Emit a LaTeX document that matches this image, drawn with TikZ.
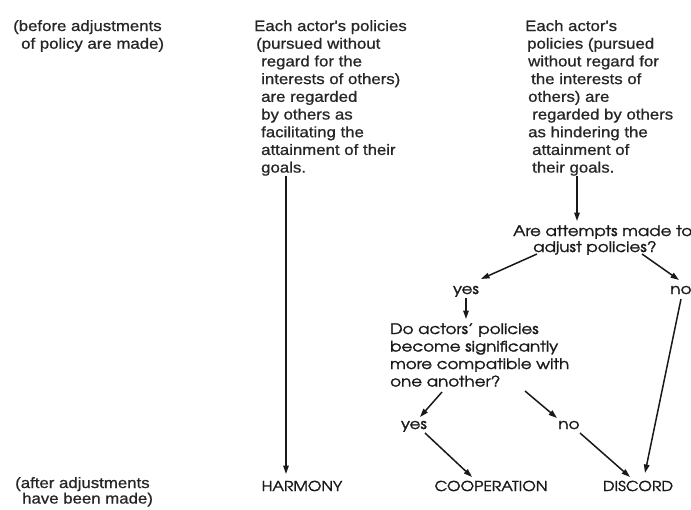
\documentclass[tikz,border=0pt]{standalone}
\usepackage{fontspec}
\setmainfont{Liberation Sans}
\newfontfamily\bodyf[FakeStretch=1.12,FakeBold=0.8]{Liberation Sans}
\newfontfamily\advf[FakeStretch=1.15,FakeBold=1.6]{texgyreadventor-regular.otf}
\usetikzlibrary{arrows.meta}
\begin{document}
\begin{tikzpicture}[x=1pt,y=-1pt,
  txt/.style={inner sep=0pt, anchor=base west, text=black!85, font=\bodyf\fontsize{15}{17.7}\selectfont},
  adv/.style={inner sep=0pt, text=black!90, font=\advf\fontsize{14.5}{17.5}\selectfont},
  capsf/.style={adv, anchor=base, font=\advf\fontsize{13.6}{16}\selectfont},
  arr/.style={-{Triangle[length=8.5pt,width=5.5pt]}, line width=1.5pt, black!90}]
\useasboundingbox (0,0) rectangle (691,509);
\fill[white] (0,0) rectangle (691,509);

\node[txt] (before) at (13,31) {\begin{tabular}[t]{@{}l@{}}(before adjustments\\\hspace*{8pt}of policy are made)\end{tabular}};
\node[txt] (mid) at (254,31) {\begin{tabular}[t]{@{}l@{}}Each actor's policies\\
\hspace*{2pt}(pursued without\\
\hspace*{7pt}regard for the\\
\hspace*{7pt}interests of others)\\
\hspace*{7pt}are regarded\\
\hspace*{7pt}by others as\\
\hspace*{7pt}facilitating the\\
\hspace*{7pt}attainment of their\\
\hspace*{7pt}goals.\end{tabular}};
\node[txt] (right) at (525,31) {\begin{tabular}[t]{@{}l@{}}Each actor's\\
\hspace*{2pt}policies (pursued\\
\hspace*{3pt}without regard for\\
\hspace*{6pt}the interests of\\
\hspace*{3pt}others) are\\
\hspace*{7pt}regarded by others\\
\hspace*{3pt}as hindering the\\
\hspace*{7pt}attainment of\\
\hspace*{7pt}their goals.\end{tabular}};
\node[txt, font=\bodyf\fontsize{15}{15.5}\selectfont] (after) at (15,488) {\begin{tabular}[t]{@{}l@{}}(after adjustments\\\hspace*{7pt}have been made)\end{tabular}};

\node[adv, anchor=base west, font=\advf\fontsize{14.5}{16}\selectfont] (q1) at (513,236) {\begin{tabular}[t]{@{}l@{}}Are attempts made to\\\hspace*{20pt}adjust policies?\end{tabular}};
\node[adv, anchor=base] (yes1) at (466,294) {yes};
\node[adv, anchor=base] (no1) at (681,294) {no};
\node[adv, anchor=base west] (q2) at (390,334) {\begin{tabular}[t]{@{}l@{}}Do actors’ policies\\become significantly\\more compatible with\\one another?\end{tabular}};
\node[adv, anchor=base] (yes2) at (414,429) {yes};
\node[adv, anchor=base] (no2) at (569,429) {no};
\node[capsf] (harm) at (302,491) {HARMONY};
\node[capsf] (coop) at (491,491) {COOPERATION};
\node[capsf] (disc) at (638,491) {DISCORD};

\draw[arr] ([shift={(32,145)}]mid.base west) -- ([shift={(-16,-17)}]harm.base);
\draw[arr] ([shift={(52,145)}]right.base west) -- ([shift={(64,-15)}]q1.base west);
\draw[arr] ([shift={(24,18)}]q1.base west) -- ([shift={(15,-15)}]yes1.base);
\draw[arr] ([shift={(129,18)}]q1.base west) -- ([shift={(-2,-14)}]no1.base);
\draw[arr] ([shift={(0,4)}]yes1.base) -- ([shift={(76,-15)}]q2.base west);
\draw[arr] ([shift={(52,58)}]q2.base west) -- ([shift={(6,-12)}]yes2.base);
\draw[arr] ([shift={(135,57)}]q2.base west) -- ([shift={(-12,-11)}]no2.base);
\draw[arr] ([shift={(11,4)}]yes2.base) -- ([shift={(-19,-14)}]coop.base);
\draw[arr] ([shift={(11,4)}]no2.base) -- ([shift={(-8,-14)}]disc.base);
\draw[arr] ([shift={(0,5)}]no1.base) -- ([shift={(7,-18)}]disc.base);
\end{tikzpicture}
\end{document}
